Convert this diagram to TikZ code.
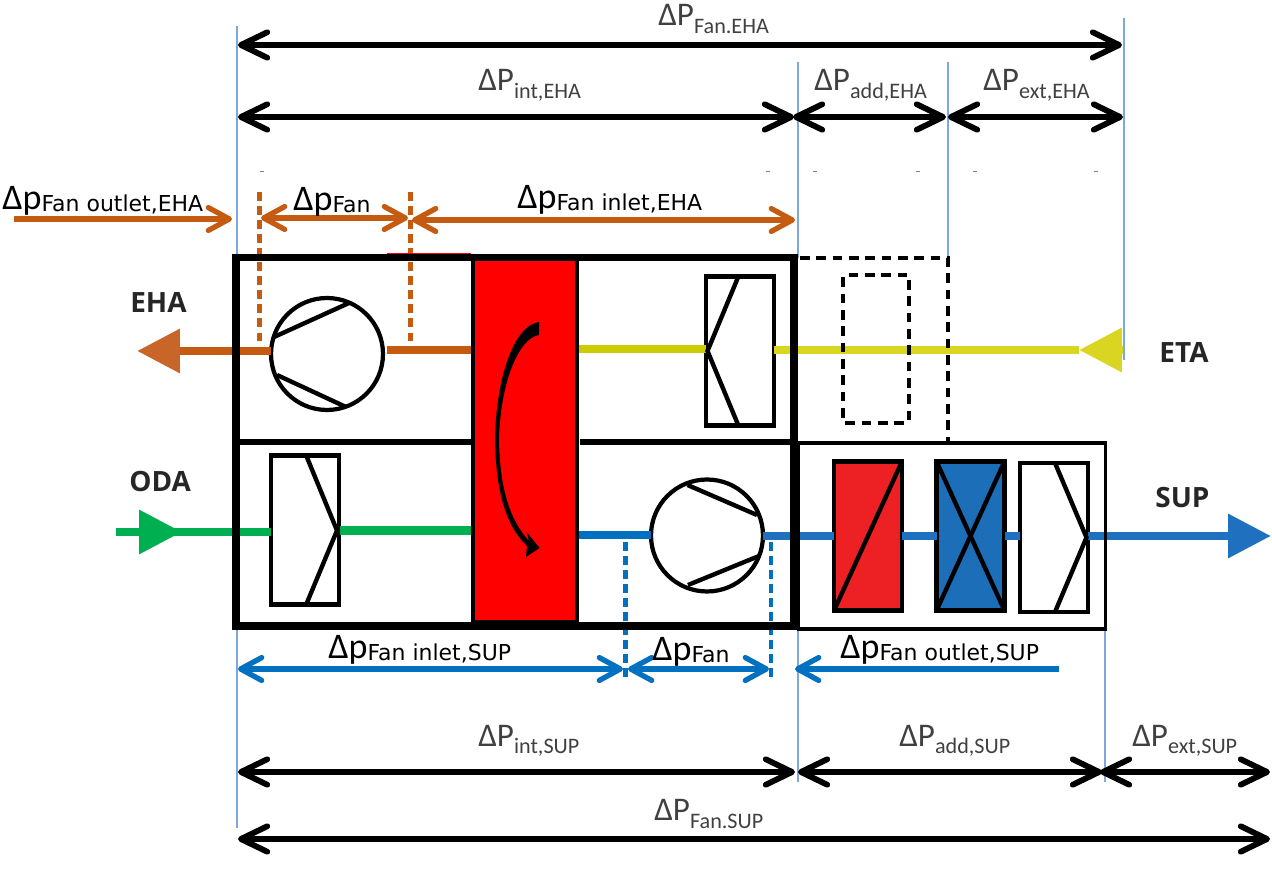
\documentclass[tikz,border=0pt]{standalone}
\usepackage{fontspec}
\setmainfont{Carlito}
\newfontfamily\subfont{DejaVu Sans}
\newfontfamily\airfont{Open Sans}
\usetikzlibrary{arrows.meta}
\definecolor{dimorange}{HTML}{C55A11}
\definecolor{dimblue}{HTML}{0070C0}
\definecolor{guideblue}{HTML}{7FA8DA}
\definecolor{headorange}{HTML}{C8662A}
\definecolor{airgreen}{HTML}{00B050}
\definecolor{airblue}{HTML}{1F71BF}
\definecolor{airyellow}{HTML}{D9D521}
\definecolor{wheelyellow}{HTML}{CCCC00}
\definecolor{coilred}{HTML}{ED2024}
\definecolor{coilblue}{HTML}{1C6EB8}
\newcommand{\bigdrop}[1]{{\fontsize{18.8}{20}\selectfont ΔP}\raisebox{-4pt}{\fontsize{12.6}{14}\selectfont #1}}
\newcommand{\smalldrop}[1]{{\fontsize{20.5}{20}\selectfont Δp}\raisebox{-1pt}{\fontsize{12.5}{14}\subfont #1}}
\tikzset{
	x=0.02cm,y=-0.02cm,
	blackdim/.style={line width=3.3pt,{Straight Barb[round,length=15pt,width=14.5pt]}-{Straight Barb[round,length=15pt,width=14.5pt]}},
	colordim/.style={line width=3pt,>={Straight Barb[round,length=12pt,width=13pt]}},
	guide/.style={guideblue,line width=0.85pt},
	airline/.style={line width=5pt},
	airtip/.style={-{Triangle[length=24.4pt,width=24pt,#1]}},
	cutline/.style={line width=2.3pt,dash pattern=on 5pt off 3pt},
	addline/.style={black,line width=2.7pt,dash pattern=on 5.5pt off 3.8pt},
	symbolbox/.style={draw=black,line width=2.5pt,inner sep=0pt,outer sep=0pt,minimum width=1.36cm,minimum height=2.98cm},
	fancircle/.style={draw=black,circle,line width=2.4pt,inner sep=0pt,outer sep=0pt,minimum size=2.24cm},
	symbolline/.style={line width=2.5pt},
	droplabel/.style={anchor=base west,inner sep=0pt,text=black!75},
	flowlabel/.style={anchor=base west,inner sep=0pt,text=black},
	airlabel/.style={anchor=base west,inner sep=0pt,font=\airfont\bfseries\fontsize{15.9}{17}\selectfont,text=black!85}
}
\begin{document}
\begin{tikzpicture}
	\useasboundingbox (0,0) rectangle (1272,874);
	
	\coordinate (gA1) at (237,26);
	\coordinate (gA2) at (237,258);
	\coordinate (gB1) at (798,62);
	\coordinate (gB2) at (798,258);
	\coordinate (gC1) at (948,62);
	\coordinate (gC2) at (948,258);
	\coordinate (gD1) at (1124,18);
	\coordinate (gD2) at (1124,360);
	\coordinate (gE1) at (237,630);
	\coordinate (gE2) at (237,828);
	\coordinate (gF1) at (798,630);
	\coordinate (gF2) at (798,782);
	\coordinate (gG1) at (1105,630);
	\coordinate (gG2) at (1105,782);
	\draw[guide] (gA1)--(gA2);
	\draw[guide] (gB1)--(gB2);
	\draw[guide] (gC1)--(gC2);
	\draw[guide] (gD1)--(gD2);
	\draw[guide] (gE1)--(gE2);
	\draw[guide] (gF1)--(gF2);
	\draw[guide] (gG1)--(gG2);
	
	\foreach \speck in {262,768,815,918,975,1096}
		\draw[black!50,line width=0.4pt] (\speck-2,171)--(\speck+2,171);
	
	\coordinate (fanEL) at (238,45);
	\coordinate (fanER) at (1122,45);
	\coordinate (intEL) at (238,117);
	\coordinate (intER) at (794,117);
	\coordinate (addEL) at (793,117);
	\coordinate (addER) at (946,117);
	\coordinate (extEL) at (948,117);
	\coordinate (extER) at (1123,117);
	\coordinate (intSL) at (238,772);
	\coordinate (intSR) at (795,772);
	\coordinate (addSL) at (798,772);
	\coordinate (addSR) at (1102,772);
	\coordinate (extSL) at (1100,772);
	\coordinate (extSR) at (1270,772);
	\coordinate (fanSL) at (238,839);
	\coordinate (fanSR) at (1270,839);
	\draw[blackdim] (fanEL)--(fanER);
	\draw[blackdim] (intEL)--(intER);
	\draw[blackdim] (addEL)--(addER);
	\draw[blackdim] (extEL)--(extER);
	\draw[blackdim] (intSL)--(intSR);
	\draw[blackdim] (addSL)--(addSR);
	\draw[blackdim] (extSL)--(extSR);
	\draw[blackdim] (fanSL)--(fanSR);
	
	\coordinate (outEL) at (14,219);
	\coordinate (outER) at (232,219);
	\coordinate (dpEL) at (261,218);
	\coordinate (dpER) at (408,218);
	\coordinate (inEL) at (412,220);
	\coordinate (inER) at (795,220);
	\coordinate (inSL) at (238,669);
	\coordinate (inSR) at (623,669);
	\coordinate (dpSL) at (628,669);
	\coordinate (dpSR) at (769,669);
	\coordinate (outSL) at (795,669);
	\coordinate (outSR) at (1059,669);
	\draw[colordim,dimorange,->] (outEL)--(outER);
	\draw[colordim,dimorange,<->] (dpEL)--(dpER);
	\draw[colordim,dimorange,<->] (inEL)--(inER);
	\draw[colordim,dimblue,<->] (inSL)--(inSR);
	\draw[colordim,dimblue,<->] (dpSL)--(dpSR);
	\draw[colordim,dimblue,<-] (outSL)--(outSR);
	
	\node[fancircle] (fanE) at (327,354) {};
	\node[fancircle] (fanS) at (707,535.5) {};
	\node[symbolbox] (filterE) at (740,351) {};
	\node[symbolbox] (filterO) at (305,530) {};
	\node[symbolbox] (filterS) at (1054,537.5) {};
	\node[symbolbox,fill=coilred] (heater) at (868,536) {};
	\node[symbolbox,fill=coilblue] (cooler) at (970.5,536) {};
	
	\coordinate (ehaTip) at (137,351);
	\coordinate (ehaIn) at (387,350);
	\coordinate (ehaOut) at (471,350);
	\coordinate (etaBase) at (1123,350);
	\coordinate (etaTip) at (1079,350);
	\coordinate (etaWheel) at (579,349);
	\coordinate (etaFilter) at (706,349);
	\coordinate (odaStart) at (116,532);
	\coordinate (odaTip) at (182,532);
	\coordinate (odaInner) at (160,532);
	\coordinate (odaFilter) at (340,530.5);
	\coordinate (odaWheel) at (471,530.5);
	\coordinate (supWheel) at (579,535);
	\coordinate (supEnd) at (1271,536);
	\draw[airline,dimorange,airtip={color=headorange}] (fanE.west |- ehaTip)--(ehaTip);
	\draw[airline,dimorange] (ehaIn)--(ehaOut);
	\draw[airline,wheelyellow] (etaWheel)--(etaFilter);
	\draw[airline,airyellow] (filterE.east |- etaTip)--(etaTip);
	\draw[airline,airyellow,airtip={}] (etaBase)--(etaTip);
	\draw[airline,airgreen,airtip={}] (odaStart)--(odaTip);
	\draw[airline,airgreen] (odaInner)--(filterO.west |- odaTip);
	\draw[airline,airgreen] (odaFilter)--(odaWheel);
	\draw[airline,dimblue] (supWheel)--(fanS.west |- supWheel);
	\draw[airline,airblue] (fanS.east |- supEnd)--(heater.west);
	\draw[airline,airblue] (heater.east)--(cooler.west);
	\draw[airline,airblue] (cooler.east)--(filterS.west |- supEnd);
	\draw[airline,airblue,airtip={}] (filterS.east |- supEnd)--(supEnd);
	
	\coordinate (cutA1) at (259.5,192);
	\coordinate (cutA2) at (259.5,347);
	\coordinate (cutB1) at (410.5,192);
	\coordinate (cutB2) at (410.5,347);
	\coordinate (cutC1) at (625.5,542);
	\coordinate (cutC2) at (625.5,680);
	\coordinate (cutD1) at (771,542);
	\coordinate (cutD2) at (771,680);
	\draw[cutline,dimorange] (cutA1)--(cutA2);
	\draw[cutline,dimorange] (cutB1)--(cutB2);
	\draw[cutline,dimblue] (cutC1)--(cutC2);
	\draw[cutline,dimblue] (cutD1)--(cutD2);
	
	\draw[symbolline] (349,303)--(274,337);
	\draw[symbolline] (277,375)--(346,407);
	\draw[symbolline] (687.5,485)--(757,515);
	\draw[symbolline] (688,585)--(759,556);
	\draw[symbolline] (739,275)--(707.5,351)--(739,427);
	\draw[symbolline] (306,455)--(337,530.5)--(306,605);
	\draw[symbolline] (1055,463)--(1086.5,537.5)--(1055,612);
	\draw[symbolline] (heater.north east)--(heater.south west);
	\draw[symbolline] (cooler.north east)--(cooler.south west);
	\draw[symbolline] (cooler.north west)--(cooler.south east);
	
	\node[draw=black,line width=2pt,inner sep=0pt,minimum width=6.14cm,minimum height=3.72cm] (supbox) at (952,536) {};
	\node[draw=black,line width=2pt,fill=red,inner sep=0pt,minimum width=2.08cm,minimum height=7.28cm] (wheel) at (525,440) {};
	\fill (539,322) .. controls (515,325) and (496,375) .. (495,440) .. controls (496,490) and (505,525) .. (527,546) -- (526,557) -- (539.6,548) -- (526.5,532) -- (529,541) .. controls (510,520) and (500,490) .. (499,440) .. controls (500,385) and (518,338) .. (539,335) -- cycle;
	
	\node[draw=black,line width=4.5pt,inner sep=0pt,minimum width=11.16cm,minimum height=7.37cm] (unitbox) at (515,441.75) {};
	\coordinate (midAL) at (236,442);
	\coordinate (midAR) at (472,442);
	\coordinate (midBL) at (580,442);
	\coordinate (midBR) at (794,442);
	\draw[line width=3.8pt] (midAL)--(midAR);
	\draw[line width=3.8pt] (midBL)--(midBR);
	\coordinate (redA) at (387,253.5);
	\coordinate (redB) at (471,253.5);
	\draw[red,line width=0.9pt] (redA)--(redB);
	
	\coordinate (addT) at (800,258);
	\coordinate (addB) at (948,441);
	\draw[addline] (addT) -| (addB);
	\node[draw=black,line width=2.7pt,dash pattern=on 5.5pt off 3.8pt,rounded corners=1pt,inner sep=0pt,minimum width=1.32cm,minimum height=2.96cm] (addbox) at (876,349) {};
	
	\node[droplabel] (lblFanE) at (658,26) {\bigdrop{Fan.EHA}};
	\node[droplabel] (lblIntE) at (478,91) {\bigdrop{int,EHA}};
	\node[droplabel] (lblAddE) at (814,91) {\bigdrop{add,EHA}};
	\node[droplabel] (lblExtE) at (983,91) {\bigdrop{ext,EHA}};
	\node[droplabel] (lblIntS) at (478,746) {\bigdrop{int,SUP}};
	\node[droplabel] (lblAddS) at (899,746) {\bigdrop{add,SUP}};
	\node[droplabel] (lblExtS) at (1132,746) {\bigdrop{ext,SUP}};
	\node[droplabel] (lblFanS) at (654,821) {\bigdrop{Fan.SUP}};
	
	\node[flowlabel] (lblOutE) at (2,210) {\smalldrop{Fan outlet,EHA}};
	\node[flowlabel] (lblDpE) at (293,211) {\smalldrop{Fan}};
	\node[flowlabel] (lblInE) at (517,209) {\smalldrop{Fan inlet,EHA}};
	\node[flowlabel] (lblInS) at (328,659) {\smalldrop{Fan inlet,SUP}};
	\node[flowlabel] (lblDpS) at (652,661) {\smalldrop{Fan}};
	\node[flowlabel] (lblOutS) at (840,659) {\smalldrop{Fan outlet,SUP}};
	
	\node[airlabel] (eha) at (130,313) {EHA};
	\node[airlabel] (oda) at (129,492) {ODA};
	\node[airlabel] (eta) at (1159,363) {ETA};
	\node[airlabel] (sup) at (1155,508) {SUP};
\end{tikzpicture}
\end{document}
